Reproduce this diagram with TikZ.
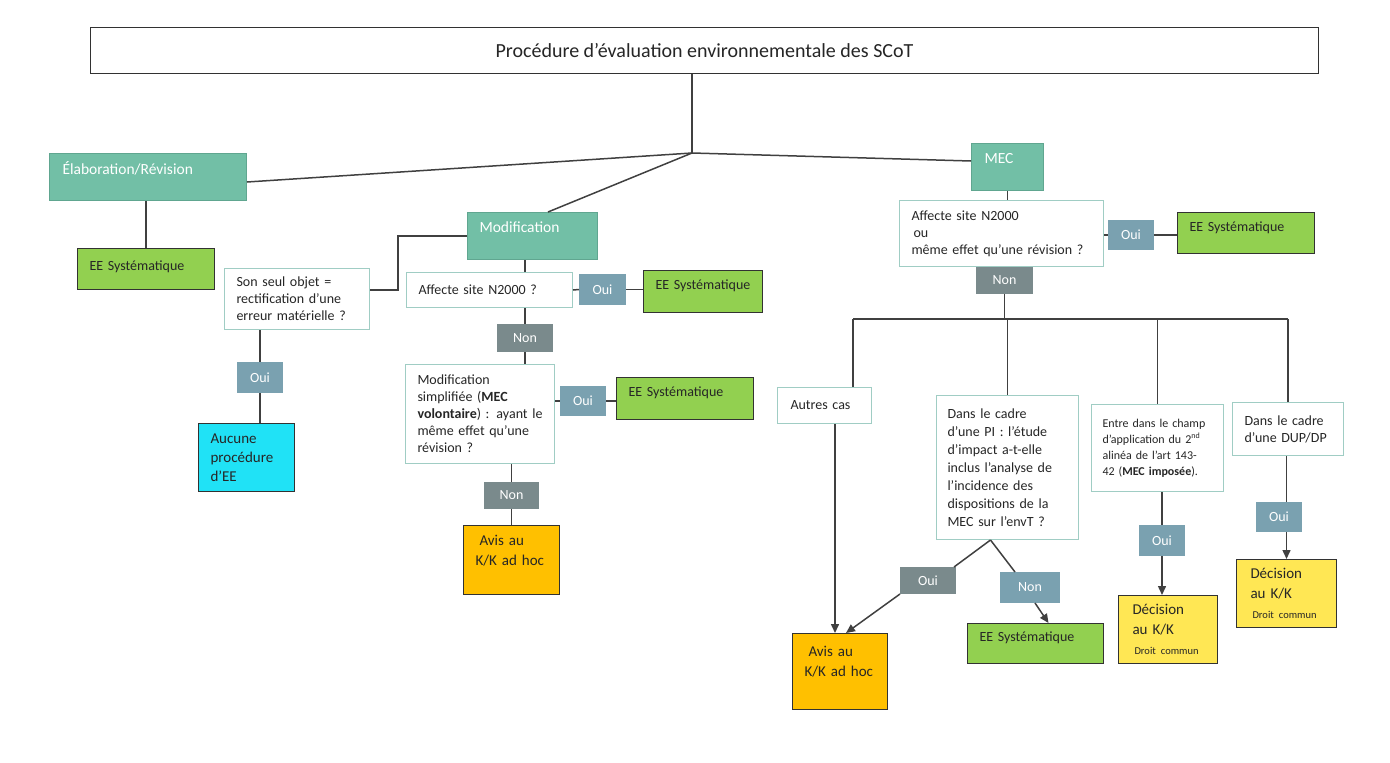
\documentclass[tikz,border=0pt]{standalone}
\usepackage{fontspec}
\setmainfont{Carlito}
\usetikzlibrary{calc,arrows.meta}

\definecolor{tealfill}{RGB}{114,191,166}
\definecolor{tealline}{RGB}{96,166,144}
\definecolor{askline}{RGB}{160,205,196}
\definecolor{eegreen}{RGB}{146,208,80}
\definecolor{ouiblue}{RGB}{122,161,176}
\definecolor{nongray}{RGB}{122,138,140}
\definecolor{avisorange}{RGB}{255,192,0}
\definecolor{decyellow}{RGB}{255,231,84}
\definecolor{nulcyan}{RGB}{32,226,246}
\definecolor{txtgray}{RGB}{38,38,38}
\definecolor{linkgray}{RGB}{64,64,64}
\definecolor{boxline}{RGB}{50,50,50}

\tikzset{
  sz/.style 2 args={minimum width=#1pt, minimum height=#2pt},
  wh/.code 2 args={\pgfmathsetlengthmacro\boxtw{#1-24}%
    \pgfkeysalso{sz={#1}{#2}, text width/.expanded=\boxtw}},
  base/.style={rectangle, anchor=north west, inner xsep=12pt, inner ysep=2pt,
    align=left, text=txtgray, line width=1pt, font=\fontsize{14}{17}\selectfont},
  titlebox/.style={base, draw=boxline, fill=white, align=center, font=\fontsize{20}{24}\selectfont},
  headbox/.style={base, draw=tealline, fill=tealfill, text=white, text depth=17pt, font=\fontsize{15.5}{18}\selectfont},
  askbox/.style={base, draw=askline, fill=white},
  eebox/.style={base, draw=boxline, fill=eegreen, text depth=13pt},
  ouibox/.style={base, draw=ouiblue, fill=ouiblue, text=white, align=center, inner xsep=0pt},
  nonbox/.style={ouibox, draw=nongray, fill=nongray},
  avisbox/.style={base, draw=boxline, fill=avisorange, font=\fontsize{15}{20}\selectfont},
  decbox/.style={base, draw=boxline, fill=decyellow, inner xsep=14pt, font=\fontsize{15}{20}\selectfont},
  nulbox/.style={base, draw=boxline, fill=nulcyan, font=\fontsize{15}{19}\selectfont},
  link/.style={draw=linkgray, line width=1.5pt},
  arr/.style={link, -{Triangle[length=9pt,width=8pt]}}
}

\begin{document}
\begin{tikzpicture}[x=1pt, y=-1pt]
\useasboundingbox (0,0) rectangle (1390,763);

% Titre et trois branches
\node[titlebox, sz={1228}{46}] (title) at (90,27) {Procédure d’évaluation environnementale des SCoT};
\coordinate (hub) at (692,153);
\node[headbox, wh={195}{47}, inner xsep=13pt] (elab) at (49,153) {Élaboration/Révision};
\node[headbox, wh={130}{47}] (modif) at (467,212) {Modification};
\node[headbox, wh={70}{47}, inner xsep=13pt] (mec) at (971,143) {MEC};

\draw[link] (title.south -| hub) -- (hub);
\draw[link] (hub) -- ($(elab.east)+(0,5)$);
\draw[link] (hub) -- ($(modif.north west)+(81,0)$);
\draw[link] (hub) -- ($(mec.west)+(0,-6)$);

% Elaboration / revision
\node[eebox, wh={137}{41}, text depth=6pt] (ee1) at (77,248) {EE Systématique};
\draw[link] (ee1.north) -- (ee1.north |- elab.south);

% Modification
\node[askbox, wh={145}{61}] (seul) at (224,268) {Son seul objet =\\rectification d’une\\erreur matérielle ?};
\node[ouibox, sz={45}{30}] (oui1) at (237,362) {Oui};
\node[nulbox, wh={96}{68}] (aucune) at (198,423) {Aucune\\procédure\\d’EE};
\node[askbox, wh={166}{35}] (affm) at (406,272) {Affecte site N2000 ?};
\node[ouibox, sz={46}{30}] (ouim) at (579,274) {Oui};
\node[eebox, wh={119}{42}] (eem) at (643,270) {EE Systématique};
\node[nonbox, sz={55}{27}] (nonm) at (497,324) {Non};
\node[askbox, wh={149}{99}] (simpl) at (405,364) {Modification\\simplifiée (\textbf{MEC}\\\textbf{volontaire}) : ayant le\\même effet qu’une\\révision ?};
\node[ouibox, sz={45}{29}] (ouis) at (560,386) {Oui};
\node[eebox, wh={137}{42}] (ees) at (616,377) {EE Systématique};
\node[nonbox, sz={54}{26}] (nons) at (484,482) {Non};
\node[avisbox, wh={96}{69}] (avism) at (463,525) {\hspace{4pt}Avis au\\K/K ad hoc\\\mbox{}};

\draw[link] (modif.west) -- ++(-69,0) |- ($(seul.east)+(0,-9)$);
\draw[link] (seul.south -| oui1.north) -- (oui1.north);
\draw[link] (oui1.south) -- (oui1.south |- aucune.north);
\draw[link] (modif.south -| nonm.north) -- (affm.north -| nonm.north);
\draw[link] (affm.east) -- (ouim.west);
\draw[link] (ouim.east) -- (eem.west |- ouim.east);
\draw[link] (affm.south -| nonm.north) -- (nonm.north);
\draw[link] (nonm.south) -- (simpl.north -| nonm.south);
\draw[link] (simpl.east |- ouis.west) -- (ouis.west);
\draw[link] (ouis.east) -- (ees.west |- ouis.east);
\draw[link] (simpl.south -| nons.north) -- (nons.north);
\draw[link] (nons.south) -- (avism.north -| nons.south);

% MEC
\node[askbox, wh={204}{66}] (affmec) at (899,200) {Affecte site N2000\\\hspace{2pt}ou\\même effet qu’une révision ?};
\node[ouibox, sz={45}{29}] (ouimec) at (1108,220) {Oui};
\node[eebox, wh={137}{41}] (eemec) at (1177,212) {EE Systématique};
\node[nonbox, sz={56}{26}] (nonmec) at (976,267) {Non};
\coordinate (fork) at (1006,319);
\coordinate (forkL) at (853,319);

\node[askbox, wh={92}{36}, inner xsep=13pt] (autres) at (777,387) {Autres cas};
\node[askbox, wh={142}{144}, inner xsep=11pt, text width=120pt, font=\fontsize{14}{18}\selectfont] (pi) at (936,395)
  {Dans le cadre\\d’une PI : l’étude\\d’impact a-t-elle\\inclus l’analyse de\\l’incidence des\\dispositions de la\\MEC sur l’envT ?};
\node[askbox, wh={129}{87}, inner xsep=11pt, text width=110pt, font=\fontsize{12}{16}\selectfont] (entre) at (1091,404)
  {Entre dans le champ\\d’application du 2\textsuperscript{nd}\\alinéa de l’art 143-\\42 (\textbf{MEC imposée}).};
\node[askbox, wh={111}{53}] (dup) at (1232,402) {Dans le cadre\\d’une DUP/DP};

\node[nonbox, sz={55}{26}] (ouipi) at (900,567) {Oui};
\node[ouibox, sz={59}{30}] (nonpi) at (1000,572) {Non};
\node[avisbox, wh={95}{76}] (avispi) at (792,633) {\hspace{4pt}Avis au\\K/K ad hoc\\\mbox{}};
\node[eebox, wh={136}{40}] (eepi) at (967,623) {EE Systématique};
\node[ouibox, sz={45}{30}] (ouie) at (1139,525) {Oui};
\node[decbox, wh={95}{68}] (dec1) at (1118,595) {Décision\\au K/K\\{\fontsize{10.5}{12}\selectfont\hspace{2pt}Droit commun}};
\node[ouibox, sz={45}{29}] (ouid) at (1256,502) {Oui};
\node[decbox, wh={96}{68}] (dec2) at (1236,559) {Décision\\au K/K\\{\fontsize{10.5}{12}\selectfont\hspace{2pt}Droit commun}};

\draw[link] (mec.south) -- (affmec.north -| mec.south);
\draw[link] (affmec.east |- ouimec.west) -- (ouimec.west);
\draw[link] (ouimec.east) -- (eemec.west |- ouimec.east);
\draw[link] (nonmec.south) -- (nonmec.south |- fork);
\draw[link] (forkL) -- (fork -| dup.north);
\draw[link] (forkL) -- (forkL |- autres.north);
\draw[link] (fork -| pi.north) -- (pi.north);
\draw[link] (fork -| entre.north) -- (entre.north);
\draw[link] (fork -| dup.north) -- (dup.north);

\draw[arr] (autres.south -| avispi.north) ++(-5,0) -- ($(avispi.north)+(-5,0)$);
\coordinate (pifoot) at ($(pi.south)+(-17,0)$);
\draw[link] (pifoot) -- ($(ouipi.north east)+(-2,0)$);
\draw[arr] (ouipi.south west) -- ($(avispi.north)+(6,0)$);
\draw[link] (pifoot) -- ($(nonpi.north west)+(15,0)$);
\draw[arr] ($(nonpi.south)+(5,0)$) -- ($(eepi.north)+(13,0)$);
\draw[link] (entre.south -| ouie.north) -- (ouie.north);
\draw[arr] (ouie.south) -- (ouie.south |- dec1.north);
\draw[link] (dup.south -| dec2.north) -- (ouid.north -| dec2.north);
\draw[arr] (ouid.south -| dec2.north) -- (dec2.north);

\end{tikzpicture}
\end{document}
